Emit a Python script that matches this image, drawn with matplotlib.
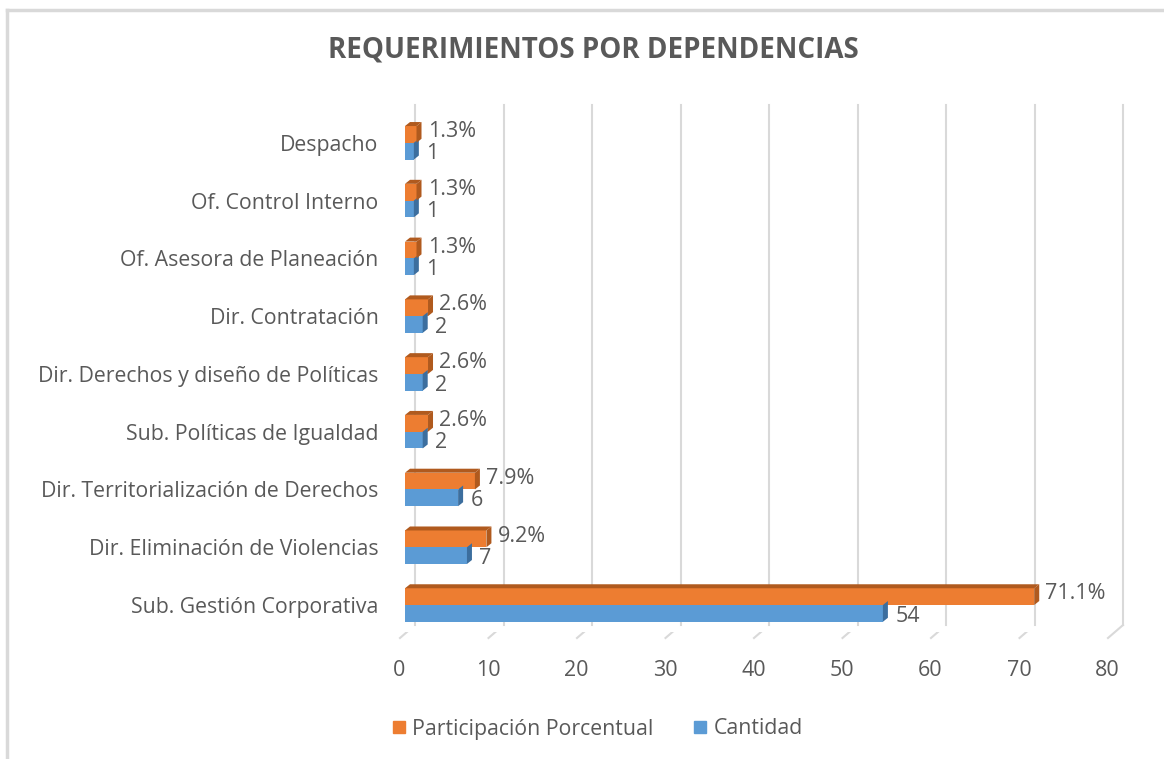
import matplotlib

matplotlib.use("Agg")
import matplotlib.pyplot as plt
from matplotlib.patches import Polygon
from matplotlib.lines import Line2D
import matplotlib.transforms as mtransforms

plt.rcParams["font.family"] = ["Open Sans", "DejaVu Sans"]

# ----- data -----------------------------------------------------------------
categories = [
    "Sub. Gestión Corporativa",
    "Dir. Eliminación de Violencias",
    "Dir. Territorialización de Derechos",
    "Sub. Políticas de Igualdad",
    "Dir. Derechos y diseño de Políticas",
    "Dir. Contratación",
    "Of. Asesora de Planeación",
    "Of. Control Interno",
    "Despacho",
]
cantidad = [54, 7, 6, 2, 2, 2, 1, 1, 1]
participacion = [71.1, 9.2, 7.9, 2.6, 2.6, 2.6, 1.3, 1.3, 1.3]
xticks = [0, 10, 20, 30, 40, 50, 60, 70, 80]

ORANGE = "#ED7D31"
ORANGE_DARK = "#B05A1E"
BLUE = "#5B9BD5"
BLUE_DARK = "#3C6E9E"
TEXT = "#595959"
GRID = "#d9d9d9"

W, H = 1164, 759
fig = plt.figure(figsize=(W / 100, H / 100), dpi=100)
ax = fig.add_axes([405 / W, (H - 632) / H, 708 / W, 520 / H])

# chart border (left and top only, the picture is cropped)
fig.add_artist(Line2D([7 / W, 7 / W], [0, (H - 10) / H], color=GRID, lw=2.5))
fig.add_artist(Line2D([7 / W, 1], [(H - 10) / H, (H - 10) / H], color=GRID, lw=2.5))

ymin, ymax = -0.467, 8.533
ax.set_xlim(0, 80)
ax.set_ylim(ymin, ymax)
for s in ax.spines.values():
    s.set_visible(False)

# back wall gridlines + slanted floor tails (fake 3D)
back = ax.transData + mtransforms.ScaledTranslation(7.2 / 72, 5 / 72, fig.dpi_scale_trans)
inv_fig = fig.transFigure.inverted()
for t in xticks:
    ax.plot([t, t], [ymin, ymax], color=GRID, lw=1.5, transform=back, zorder=0, clip_on=False)
    x0, y0 = back.transform((t, ymin))
    x1, y1 = ax.transData.transform((t, ymin))
    p0, p1 = inv_fig.transform((x0, y0)), inv_fig.transform((x1 - 5, y1 - 6))
    fig.add_artist(Line2D([p0[0], p1[0]], [p0[1], p1[1]], color=GRID, lw=1.5, zorder=0))

bh = 0.29
ypos = list(range(len(categories)))
ddx, ddy = 5, 4  # bar depth in pixels


def bar3d(y, w, face, dark, top=True):
    ax.barh(y, w, height=bh, left=0, color=face, zorder=3)
    x_left, y_top = ax.transData.transform((0, y + bh / 2))
    x_right, y_bot = ax.transData.transform((w, y - bh / 2))
    inv = ax.transData.inverted()
    if top:
        face_top = [(x_left, y_top), (x_right, y_top), (x_right + ddx, y_top + ddy),
                    (x_left + ddx, y_top + ddy)]
        ax.add_patch(Polygon(inv.transform(face_top), closed=True, color=dark, zorder=4, lw=0))
    side = [(x_right, y_bot), (x_right + ddx, y_bot + ddy), (x_right + ddx, y_top + ddy),
            (x_right, y_top)]
    ax.add_patch(Polygon(inv.transform(side), closed=True, color=dark, zorder=4, lw=0))


for y, c, p in zip(ypos, cantidad, participacion):
    bar3d(y - bh / 2, c, BLUE, BLUE_DARK, top=False)
    bar3d(y + bh / 2, p, ORANGE, ORANGE_DARK)
    ax.annotate(f"{p:.1f}%", (p, y + bh / 2), xytext=(8, 2), textcoords="offset points",
                va="center", ha="left", fontsize=15.5, color=TEXT, zorder=5)
    ax.annotate(f"{c}", (c, y - bh / 2), xytext=(9, -2), textcoords="offset points",
                va="center", ha="left", fontsize=15.5, color=TEXT, zorder=5)

ax.set_yticks(ypos)
ax.set_yticklabels(categories, fontsize=15.3, color=TEXT)
ax.set_xticks(xticks)
ax.set_xticklabels([str(t) for t in xticks], fontsize=15.5, color=TEXT)
ax.tick_params(axis="y", length=0, pad=19)
ax.tick_params(axis="x", length=0, pad=20)
for lab in ax.get_xticklabels():
    lab.set_transform(lab.get_transform() + mtransforms.ScaledTranslation(-4 / 72, 0, fig.dpi_scale_trans))

fig.text(593 / W, 1 - 50 / H, "REQUERIMIENTOS POR DEPENDENCIAS", ha="center", va="center",
         fontsize=20, fontweight="bold", color=TEXT)

handles = [plt.Rectangle((0, 0), 1, 1, color=ORANGE), plt.Rectangle((0, 0), 1, 1, color=BLUE)]
fig.legend(handles, ["Participación Porcentual", "Cantidad"], loc="center",
           bbox_to_anchor=(598 / W, 1 - 729 / H), ncol=2, frameon=False, fontsize=15.3,
           labelcolor=TEXT, handlelength=0.55, handleheight=0.55, handletextpad=0.35,
           columnspacing=1.9)

fig.savefig("out.png", dpi=100)
